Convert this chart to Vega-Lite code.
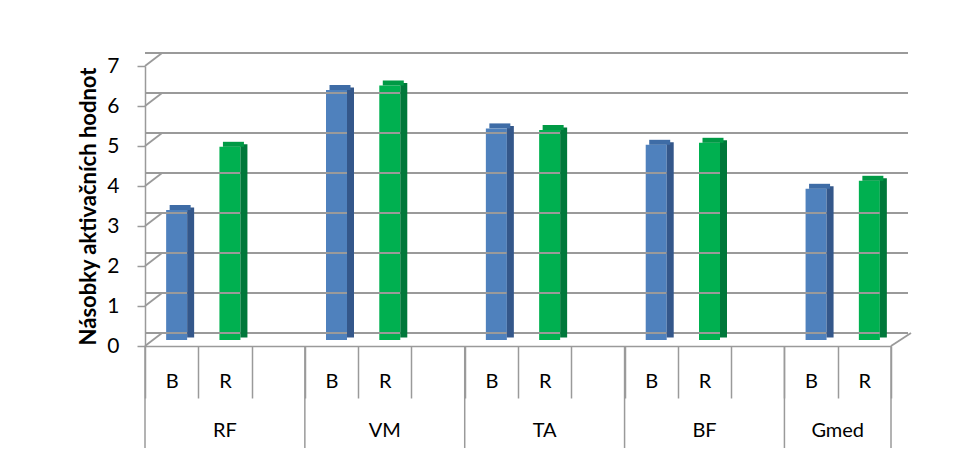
{
  "$schema": "https://vega.github.io/schema/vega-lite/v6.json",
  "width": 746,
  "height": 280,
  "autosize": {"type": "none"},
  "padding": {"left": 145, "top": 66, "right": 62, "bottom": 113},
  "background": "white",
  "config": {
    "view": {"stroke": null},
    "font": "Lato"
  },
  "resolve": {"axis": {"x": "independent", "y": "independent"}},
  "datasets": {
    "bars": [
      {"group": "RF", "cat": "B", "key": "RF|B", "value": 3.25},
      {"group": "RF", "cat": "R", "key": "RF|R", "value": 4.83},
      {"group": "VM", "cat": "B", "key": "VM|B", "value": 6.25},
      {"group": "VM", "cat": "R", "key": "VM|R", "value": 6.36},
      {"group": "TA", "cat": "B", "key": "TA|B", "value": 5.29},
      {"group": "TA", "cat": "R", "key": "TA|R", "value": 5.25},
      {"group": "BF", "cat": "B", "key": "BF|B", "value": 4.88},
      {"group": "BF", "cat": "R", "key": "BF|R", "value": 4.93},
      {"group": "Gmed", "cat": "B", "key": "Gmed|B", "value": 3.78},
      {"group": "Gmed", "cat": "R", "key": "Gmed|R", "value": 3.98}
    ],
    "grid": [
      {"g": 0}, {"g": 1}, {"g": 2}, {"g": 3}, {"g": 4}, {"g": 5}, {"g": 6}, {"g": 7}
    ]
  },
  "layer": [
    {
      "data": {"name": "bars"},
      "mark": {"type": "bar", "width": 21, "xOffset": 5, "yOffset": -6, "y2Offset": -6},
      "encoding": {
        "x": {
          "field": "key", "type": "nominal",
          "scale": {
            "domain": ["RF|B", "RF|R", "RF|", "VM|B", "VM|R", "VM|", "TA|B", "TA|R", "TA|", "BF|B", "BF|R", "BF|", "Gmed|B", "Gmed|R"],
            "paddingInner": 0, "paddingOuter": 0
          },
          "axis": {
            "title": null,
            "labelExpr": "split(datum.value, '|')[1]",
            "labelFont": "Lato",
            "labelAngle": 0,
            "labelFontSize": 20,
            "labelColor": "black",
            "labelBaseline": "middle",
            "labelPadding": -17,
            "labelOverlap": false,
            "labelBound": false,
            "labelFlush": false,
            "tickBand": "extent",
            "tickSize": 52,
            "tickColor": "#9a9a9a",
            "tickWidth": 1.5,
            "domainColor": "#9a9a9a",
            "domainWidth": 1.5,
            "grid": false
          }
        },
        "y": {
          "field": "value", "type": "quantitative",
          "scale": {"domain": [0, 7], "nice": false, "zero": true},
          "axis": {
            "title": "Násobky aktivačních hodnot",
            "titleFont": "Lato",
            "titleFontSize": 22,
            "titleFontWeight": "bold",
            "titleColor": "black",
            "titlePadding": 6,
            "values": [0, 1, 2, 3, 4, 5, 6, 7],
            "labelFont": "Lato",
            "labelFontSize": 21,
            "labelColor": "black",
            "labelPadding": 18,
            "labelOverlap": false,
            "labelBound": false,
            "labelFlush": false,
            "tickSize": 8,
            "tickColor": "#9a9a9a",
            "tickWidth": 1.5,
            "domainColor": "#9a9a9a",
            "domainWidth": 1.5,
            "grid": false
          }
        },
        "color": {"condition": {"test": "datum.cat == 'B'", "value": "#4F81BD"}, "value": "#00B050"}
      }
    },
    {
      "data": {"name": "grid"},
      "mark": {"type": "rule", "xOffset": 17, "x2Offset": 20, "yOffset": -13, "color": "#9a9a9a", "strokeWidth": 1.8},
      "encoding": {
        "y": {"field": "g", "type": "quantitative", "axis": null}
      }
    },
    {
      "data": {"name": "grid"},
      "mark": {"type": "rule", "x2Offset": 17, "y2Offset": -13, "color": "#9a9a9a", "strokeWidth": 1.8},
      "encoding": {
        "x": {"datum": "RF|B", "type": "nominal", "bandPosition": 0, "axis": null},
        "x2": {"datum": "RF|B", "bandPosition": 0},
        "y": {"field": "g", "type": "quantitative", "axis": null},
        "y2": {"field": "g"}
      }
    },
    {
      "data": {"name": "grid"},
      "transform": [{"filter": "datum.g == 0"}],
      "mark": {"type": "rule", "x2Offset": 20, "y2Offset": -13, "color": "#9a9a9a", "strokeWidth": 1.8},
      "encoding": {
        "x": {"datum": "Gmed|R", "type": "nominal", "bandPosition": 1, "axis": null},
        "x2": {"datum": "Gmed|R", "bandPosition": 1},
        "y": {"field": "g", "type": "quantitative", "axis": null},
        "y2": {"field": "g"}
      }
    },
    {
      "data": {"name": "bars"},
      "transform": [{"filter": "datum.cat == 'B'"}],
      "mark": {"type": "rule", "color": "#9a9a9a", "strokeWidth": 1.5},
      "encoding": {
        "x": {"field": "key", "type": "nominal", "bandPosition": 0, "axis": null},
        "y": {"datum": 0, "type": "quantitative", "axis": null},
        "y2": {"datum": -2.55}
      }
    },
    {
      "data": {"name": "bars"},
      "transform": [{"filter": "datum.group == 'Gmed' && datum.cat == 'R'"}],
      "mark": {"type": "rule", "color": "#9a9a9a", "strokeWidth": 1.5},
      "encoding": {
        "x": {"field": "key", "type": "nominal", "bandPosition": 1, "axis": null},
        "y": {"datum": 0, "type": "quantitative", "axis": null},
        "y2": {"datum": -2.55}
      }
    },
    {
      "data": {"name": "bars"},
      "mark": {"type": "bar", "width": 7, "xOffset": 19, "yOffset": -8.5, "y2Offset": -8.5},
      "encoding": {
        "x": {"field": "key", "type": "nominal", "axis": null},
        "y": {"field": "value", "type": "quantitative", "axis": null},
        "color": {"condition": {"test": "datum.cat == 'B'", "value": "#34578A"}, "value": "#00783A"}
      }
    },
    {
      "data": {"name": "bars"},
      "mark": {"type": "bar", "width": 21, "xOffset": 8.5, "yOffset": -11, "y2Offset": -6},
      "encoding": {
        "x": {"field": "key", "type": "nominal", "axis": null},
        "y": {"field": "value", "type": "quantitative", "axis": null},
        "y2": {"field": "value"},
        "color": {"condition": {"test": "datum.cat == 'B'", "value": "#3E6CA6"}, "value": "#009A45"}
      }
    },
    {
      "data": {"name": "bars"},
      "transform": [{"filter": "datum.cat == 'R' && datum.group != 'Gmed'"}],
      "mark": {"type": "text", "fontSize": 20, "baseline": "middle", "color": "black", "font": "Lato"},
      "encoding": {
        "x": {"field": "key", "type": "nominal", "axis": null},
        "y": {"datum": -2.125, "type": "quantitative", "axis": null},
        "text": {"field": "group"}
      }
    },
    {
      "data": {"name": "bars"},
      "transform": [{"filter": "datum.cat == 'R' && datum.group == 'Gmed'"}],
      "mark": {"type": "text", "fontSize": 20, "baseline": "middle", "color": "black", "font": "Lato"},
      "encoding": {
        "x": {"field": "key", "type": "nominal", "bandPosition": 0, "axis": null},
        "y": {"datum": -2.125, "type": "quantitative", "axis": null},
        "text": {"field": "group"}
      }
    }
  ]
}
